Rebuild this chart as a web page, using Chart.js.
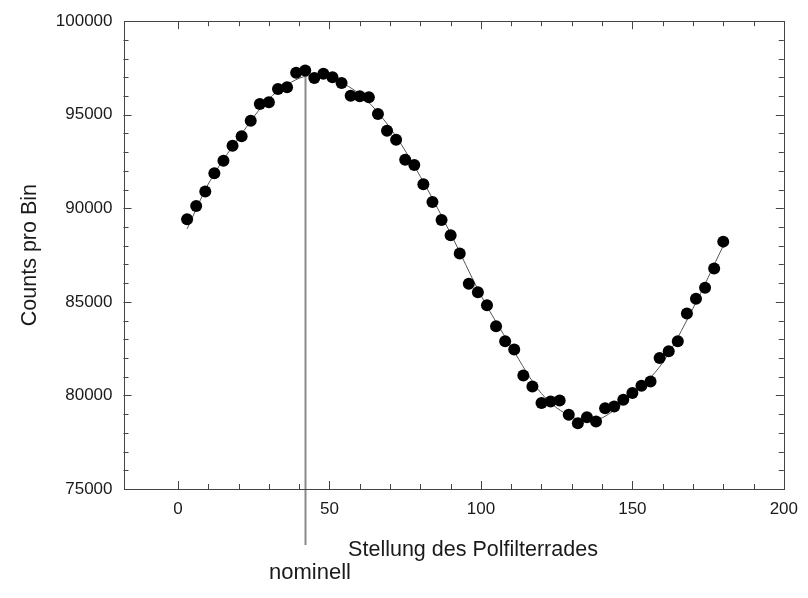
<!DOCTYPE html>
<html>
<head>
<meta charset="utf-8">
<script src="https://cdn.jsdelivr.net/npm/chart.js@4.4.0/dist/chart.umd.min.js"></script>
<style>
  body { margin: 0; background: #fff; }
  .chart-box { width: 808px; height: 598px; }
</style>
</head>
<body>
<div class="chart-box"><canvas id="polChart"></canvas></div>
<script>
// Messwerte
const positions = [3, 6, 9, 12, 15, 18, 21, 24, 27, 30, 33, 36, 39, 42, 45, 48, 51, 54, 57, 60,
    63, 66, 69, 72, 75, 78, 81, 84, 87, 90, 93, 96, 99, 102, 105, 108, 111, 114, 117, 120,
    123, 126, 129, 132, 135, 138, 141, 144, 147, 150, 153, 156, 159, 162, 165, 168, 171, 174, 177, 180];
const counts = [89420, 90130, 90900, 91880, 92540, 93340, 93850, 94680, 95580, 95670,
    96380, 96475, 97240, 97360, 96960, 97190, 97010, 96700, 96020, 95990,
    95940, 95040, 94150, 93670, 92590, 92310, 91290, 90340, 89380, 88560,
    87580, 85970, 85520, 84820, 83700, 82890, 82450, 81060, 80480, 79590,
    79680, 79730, 78970, 78520, 78840, 78610, 79320, 79410, 79770, 80130,
    80520, 80750, 82000, 82360, 82890, 84380, 85170, 85760, 86780, 88220];

// Fitkurve
const fitPositions = [3, 10, 20, 30, 40, 45, 50, 60, 70, 80, 90, 100, 110, 120, 130, 136, 140, 150, 160, 170, 180];
const fitCounts = [88900, 91300, 93750, 95850, 96950, 97100, 96950, 96100, 94300, 91700,
    88650, 85350, 82600, 80100, 78850, 78650, 78800, 80050, 81750, 84650, 88000];

// Achsen
const xLabels = [0, 50, 100, 150, 200];
const yLabels = [75000, 80000, 85000, 90000, 95000, 100000];
const nominalPosition = 42;
const nominalCount = 97360;

const fontFamily = '"Liberation Sans", Arial, sans-serif';

// Rahmen mit Ticks nach innen
const frameTicks = {
    id: 'frameTicks',
    beforeDatasetsDraw(chart) {
        const {ctx, chartArea: a, scales: {x, y}} = chart;
        // Linie "nominell"
        const px = Math.round(x.getPixelForValue(nominalPosition)) + 0.5;
        ctx.save();
        ctx.strokeStyle = '#8a8a8a';
        ctx.lineWidth = 2;
        ctx.beginPath();
        ctx.moveTo(px, y.getPixelForValue(nominalCount));
        ctx.lineTo(px, a.bottom + 56);
        ctx.stroke();
        ctx.restore();
    },
    afterDraw(chart) {
        const {ctx, chartArea: a, scales: {x, y}} = chart;
        ctx.save();
        ctx.strokeStyle = '#444';
        ctx.lineWidth = 1;
        ctx.strokeRect(Math.round(a.left) + 0.5, Math.round(a.top) + 0.5,
            Math.round(a.right - a.left), Math.round(a.bottom - a.top));

        ctx.beginPath();
        x.ticks.forEach(t => {
            if (t.value <= x.min || t.value >= x.max) return;
            const p = Math.round(x.getPixelForValue(t.value)) + 0.5;
            const len = t.value % 50 === 0 ? 8 : 5;
            ctx.moveTo(p, a.bottom); ctx.lineTo(p, a.bottom - len);
            ctx.moveTo(p, a.top); ctx.lineTo(p, a.top + len);
        });
        y.ticks.forEach(t => {
            if (t.value <= y.min || t.value >= y.max) return;
            const p = Math.round(y.getPixelForValue(t.value)) + 0.5;
            const len = t.value % 5000 === 0 ? 8 : 5;
            ctx.moveTo(a.left, p); ctx.lineTo(a.left + len, p);
            ctx.moveTo(a.right, p); ctx.lineTo(a.right - len, p);
        });
        ctx.stroke();

        // Beschriftungen
        ctx.fillStyle = '#1a1a1a';
        ctx.textAlign = 'center';
        ctx.textBaseline = 'middle';
        ctx.font = '21.5px ' + fontFamily;
        ctx.fillText('Stellung des Polfilterrades', 473, 550);
        ctx.font = '22px ' + fontFamily;
        ctx.fillText('nominell', Math.round(x.getPixelForValue(nominalPosition)) + 5, 573);
        ctx.font = '21.5px ' + fontFamily;
        ctx.translate(30, (a.top + a.bottom) / 2);
        ctx.rotate(-Math.PI / 2);
        ctx.fillText('Counts pro Bin', 0, 0);
        ctx.restore();
    }
};

const ctx = document.getElementById('polChart').getContext('2d');
const polChart = new Chart(ctx, {
    type: 'scatter',
    data: {
        datasets: [{
            label: 'Messwerte',
            data: positions.map((p, i) => ({x: p, y: counts[i]})),
            backgroundColor: '#000',
            borderColor: '#000',
            borderWidth: 0,
            pointRadius: 6,
            order: 1
        }, {
            type: 'line',
            label: 'Fit',
            data: fitPositions.map((p, i) => ({x: p, y: fitCounts[i]})),
            borderColor: '#555',
            borderWidth: 1,
            pointRadius: 0,
            fill: false,
            cubicInterpolationMode: 'monotone',
            order: 2
        }]
    },
    options: {
        responsive: true,
        maintainAspectRatio: false,
        animation: false,
        layout: { padding: { top: 20, right: 17, left: 0, bottom: 0 } },
        plugins: {
            legend: { display: false },
            tooltip: { enabled: false }
        },
        scales: {
            x: {
                type: 'linear',
                min: -18,
                max: 200,
                afterFit: s => { s.height = 109; },
                afterBuildTicks: s => { s.ticks = s.ticks.filter(t => t.value % 10 === 0); },
                grid: { display: false, drawTicks: false },
                border: { display: false },
                ticks: {
                    stepSize: 10,
                    autoSkip: false,
                    maxRotation: 0,
                    padding: 10,
                    color: '#1a1a1a',
                    font: { size: 17, family: fontFamily },
                    callback: v => xLabels.includes(v) ? String(v) : ''
                }
            },
            y: {
                type: 'linear',
                min: 75000,
                max: 100000,
                afterFit: s => { s.width = 123.5; },
                grid: { display: false, drawTicks: false },
                border: { display: false },
                ticks: {
                    stepSize: 1000,
                    autoSkip: false,
                    padding: 11,
                    color: '#1a1a1a',
                    font: { size: 17, family: fontFamily },
                    callback: v => yLabels.includes(v) ? String(v) : ''
                }
            }
        }
    },
    plugins: [frameTicks]
});
</script>
</body>
</html>
